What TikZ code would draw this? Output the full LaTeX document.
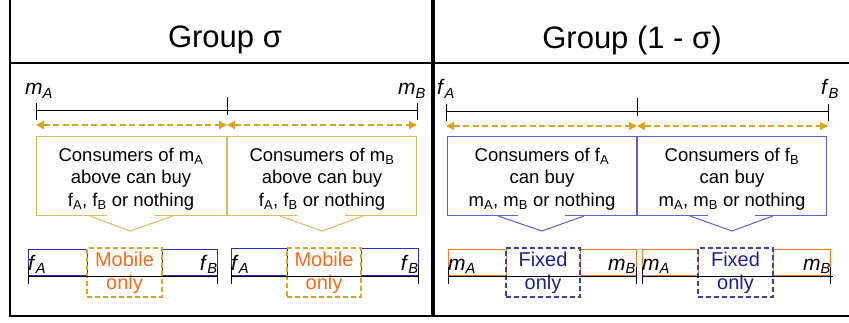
\documentclass[tikz,border=0pt]{standalone}
\usepackage{fontspec}
\setmainfont{Liberation Sans}
\usetikzlibrary{arrows.meta,positioning}

\definecolor{spangold}{RGB}{218,165,32}
\definecolor{boxgold}{RGB}{222,185,95}
\definecolor{boxblue}{RGB}{95,95,205}
\definecolor{barblue}{RGB}{45,45,195}
\definecolor{fixednavy}{RGB}{30,30,150}
\definecolor{barorange}{RGB}{255,120,40}
\definecolor{mobileorange}{RGB}{255,105,25}

\newcommand{\ilab}[2]{\textit{#1}\textsubscript{\textit{#2}}}

\tikzset{
  frame/.style={line width=2.2pt, black},
  axis/.style={line width=0.9pt, black},
  span/.style={spangold, line width=1.4pt, dash pattern=on 6pt off 3.5pt,
    {Triangle[length=8pt,width=8pt]}-{Triangle[length=8pt,width=8pt]}},
  goldbox/.style={boxgold, line width=1pt},
  bluebox/.style={boxblue, line width=1pt},
  title/.style={font=\fontsize{31}{36}\selectfont},
  lab/.style={font=\fontsize{21}{24}\selectfont, inner sep=0pt},
  infotext/.style={align=center, inner sep=0pt, font=\fontsize{18.5}{22.5}\selectfont},
  part/.style={draw, line width=0.9pt, inner sep=0pt, anchor=south west},
  onlybox/.style={draw, line width=1.1pt, dash pattern=on 5pt off 3pt, align=center,
    inner sep=0pt, font=\fontsize{20}{23}\selectfont},
}

\begin{document}
\begin{tikzpicture}[x=1pt, y=-1pt]
    \useasboundingbox (0,0) rectangle (849,323);

    % Frame
    \draw[frame] (10,0) -- (10,316) -- (849,316);
    \draw[frame] (10,63) -- (849,63);
    \draw[line width=3.8pt] (433,0) -- (433,316);

    % Titles
    \node[title] (titleS) at (225,40) {Group σ};
    \node[title] (titleR) at (632,40) {Group (1 - σ)};

    % Group sigma: mobile axis
    \coordinate (mA) at (36,110);
    \coordinate (mMid) at (227,110);
    \coordinate (mB) at (417,110);
    \draw[axis] (mA) -- (mB);
    \draw[axis] ([yshift=-10pt]mA) -- ([yshift=7pt]mA);
    \draw[axis] ([yshift=-5pt]mMid) -- ([yshift=13pt]mMid);
    \draw[axis] ([yshift=-10pt]mB) -- ([yshift=7pt]mB);
    \node[lab, anchor=base] (labmA) at (39,95) {\ilab{m}{A}};
    \node[lab, anchor=base] (labmB) at (412,95) {\ilab{m}{B}};
    \coordinate (sA) at (36,125);
    \coordinate (sMid) at (227,125);
    \coordinate (sB) at (417,125);
    \draw[span] (sA) -- (sMid);
    \draw[span] (sMid) -- (sB);

    % Group sigma: callouts
    \draw[goldbox] (107,216) -- (36,216) -- (36,137) -- (226,137) -- (226,216) -- (154,216);
    \draw[goldbox] (90,216) -- (130,231) -- (173,216);
    \node[infotext] (infoA) at (131,179)
        {Consumers of m\textsubscript{A}\\above can buy\\f\textsubscript{A}, f\textsubscript{B} or nothing};
    \draw[goldbox] (297,216) -- (227,216) -- (227,137) -- (416,137) -- (416,216) -- (345,216);
    \draw[goldbox] (280,216) -- (322,231) -- (363,216);
    \node[infotext] (infoB) at (322,179)
        {Consumers of m\textsubscript{B}\\above can buy\\f\textsubscript{A}, f\textsubscript{B} or nothing};

    % Group sigma: bars
    \node[part, barblue, minimum width=59pt, minimum height=26pt] (fA1) at (28,276) {};
    \node[part, barblue, minimum width=55pt, minimum height=26pt] (fB1) at (162,276) {};
    \node[onlybox, spangold, text=mobileorange, minimum width=75pt, minimum height=49pt]
        (mob1) at (124.5,272.5) {Mobile\\only};
    \draw[axis] (fA1.south west) -- (fB1.south east);
    \draw[axis] ([yshift=-8pt]fA1.south west) -- ([yshift=9pt]fA1.south west);
    \draw[axis] ([yshift=-8pt]fB1.south east) -- ([yshift=9pt]fB1.south east);
    \node[lab, anchor=base west] at (28,270) {\ilab{f}{A}};
    \node[lab, anchor=base east] at (218,270) {\ilab{f}{B}};

    \node[part, barblue, minimum width=56pt, minimum height=27pt] (fA2) at (231,276) {};
    \node[part, barblue, minimum width=57pt, minimum height=27pt] (fB2) at (361,276) {};
    \node[onlybox, spangold, text=mobileorange, minimum width=74pt, minimum height=49pt]
        (mob2) at (324,272.5) {Mobile\\only};
    \draw[axis] (fA2.south west) -- (fB2.south east);
    \draw[axis] ([yshift=-8pt]fA2.south west) -- ([yshift=9pt]fA2.south west);
    \draw[axis] ([yshift=-8pt]fB2.south east) -- ([yshift=9pt]fB2.south east);
    \node[lab, anchor=base west] at (231,270) {\ilab{f}{A}};
    \node[lab, anchor=base east] at (419,270) {\ilab{f}{B}};

    % Group (1 - sigma): fixed axis
    \coordinate (fA) at (446,111);
    \coordinate (fMid) at (637,111);
    \coordinate (fB) at (828,111);
    \draw[axis] (fA) -- (fB);
    \draw[axis] ([yshift=-10pt]fA) -- ([yshift=7pt]fA);
    \draw[axis] ([yshift=-5pt]fMid) -- ([yshift=13pt]fMid);
    \draw[axis] ([yshift=-10pt]fB) -- ([yshift=7pt]fB);
    \node[lab, anchor=base] (labfA) at (446,95) {\ilab{f}{A}};
    \node[lab, anchor=base] (labfB) at (830,95) {\ilab{f}{B}};
    \coordinate (tA) at (446,126);
    \coordinate (tMid) at (637,126);
    \coordinate (tB) at (828,126);
    \draw[span] (tA) -- (tMid);
    \draw[span] (tMid) -- (tB);

    % Group (1 - sigma): callouts
    \draw[bluebox] (518,216) -- (447,216) -- (447,137) -- (636,137) -- (636,216) -- (565,216);
    \draw[bluebox] (498,216) -- (542,231) -- (584,216);
    \node[infotext] (infofA) at (542,179)
        {Consumers of f\textsubscript{A}\\can buy\\m\textsubscript{A}, m\textsubscript{B} or nothing};
    \draw[bluebox] (708,216) -- (637,216) -- (637,137) -- (826,137) -- (826,216) -- (755,216);
    \draw[bluebox] (690,216) -- (732,231) -- (773,216);
    \node[infotext] (infofB) at (732,179)
        {Consumers of f\textsubscript{B}\\can buy\\m\textsubscript{A}, m\textsubscript{B} or nothing};

    % Group (1 - sigma): bars
    \node[part, barorange, minimum width=58pt, minimum height=26pt] (mA1) at (448,276) {};
    \node[part, barorange, minimum width=56pt, minimum height=26pt] (mB1) at (580,276) {};
    \node[onlybox, fixednavy!85, text=fixednavy, minimum width=74pt, minimum height=49pt]
        (fix1) at (543,272.5) {Fixed\\only};
    \draw[axis] (mA1.south west) -- (mB1.south east);
    \draw[axis] ([yshift=-8pt]mA1.south west) -- ([yshift=9pt]mA1.south west);
    \draw[axis] ([yshift=-8pt]mB1.south east) -- ([yshift=9pt]mB1.south east);
    \node[lab, anchor=base west] at (448,270) {\ilab{m}{A}};
    \node[lab, anchor=base east] at (636,270) {\ilab{m}{B}};

    \node[part, barorange, minimum width=56pt, minimum height=26pt] (mA2) at (642,276) {};
    \node[part, barorange, minimum width=57pt, minimum height=26pt] (mB2) at (773,276) {};
    \node[onlybox, fixednavy!85, text=fixednavy, minimum width=75pt, minimum height=49pt]
        (fix2) at (735.5,272.5) {Fixed\\only};
    \draw[axis] (mA2.south west) -- ([xshift=2pt]mB2.south east);
    \draw[axis] ([yshift=-8pt]mA2.south west) -- ([yshift=9pt]mA2.south west);
    \draw[axis] ([yshift=-8pt]mB2.south east) -- ([yshift=9pt]mB2.south east);
    \node[lab, anchor=base west] at (642,270) {\ilab{m}{A}};
    \node[lab, anchor=base east] at (831,270) {\ilab{m}{B}};
\end{tikzpicture}
\end{document}
